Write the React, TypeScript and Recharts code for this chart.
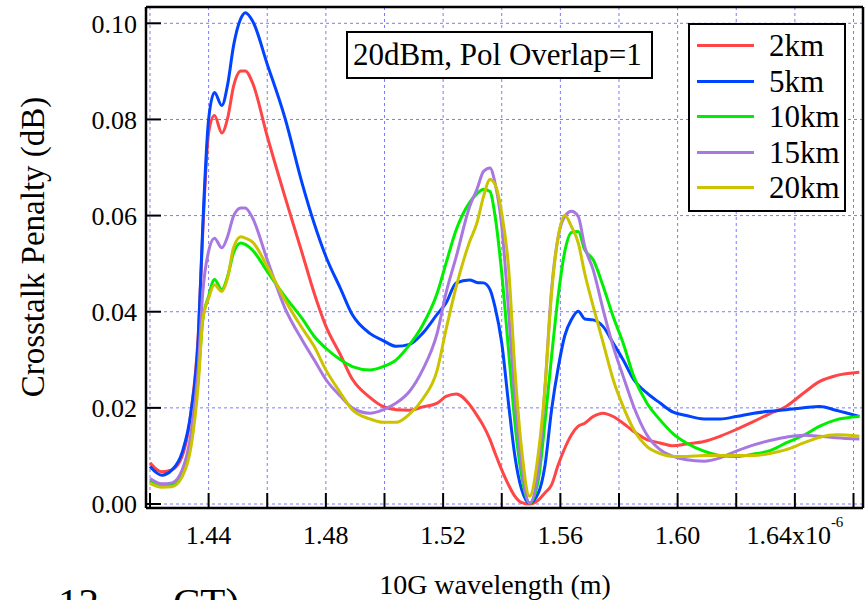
import { CartesianGrid, Legend, Line, LineChart, XAxis, YAxis } from "recharts";

const FONT = "Liberation Serif, Tinos, Times New Roman, DejaVu Serif, serif";

// wavelength in µm (axis is labelled in units of 10^-6 m)
const wavelength = [
  1.42, 1.424, 1.4275, 1.431, 1.434, 1.4365, 1.438, 1.44, 1.442, 1.4445, 1.4465, 1.4485, 1.451, 1.4525, 1.455,
  1.46, 1.466, 1.472, 1.476, 1.48, 1.485, 1.489, 1.495, 1.4995, 1.504, 1.5085, 1.513, 1.518, 1.521, 1.5245,
  1.529, 1.5315, 1.5338, 1.536, 1.5377, 1.54, 1.5423, 1.5445, 1.5468, 1.5495, 1.5525, 1.5547, 1.557, 1.5593,
  1.5615, 1.5638, 1.5661, 1.5683, 1.5712, 1.5746, 1.578, 1.5814, 1.585, 1.5895, 1.594, 1.5985, 1.603, 1.609,
  1.6145, 1.62, 1.626, 1.6315, 1.637, 1.643, 1.6485, 1.654, 1.662,
];

// crosstalk penalty (dB) per fibre length
const km2 = [
  0.0086, 0.0067, 0.0071, 0.01, 0.0192, 0.0356, 0.0564, 0.0772, 0.0808, 0.0772, 0.0803, 0.0869, 0.0901, 0.0901, 0.0876,
  0.0765, 0.064, 0.052, 0.0439, 0.037, 0.031, 0.026, 0.0222, 0.0203, 0.0196, 0.0195, 0.0202, 0.021, 0.0224, 0.0229,
  0.0207, 0.0185, 0.0162, 0.0134, 0.0106, 0.0071, 0.004, 0.0016, 0.0003, 0.0, 0.0008, 0.0023, 0.004, 0.0082,
  0.0116, 0.0144, 0.0162, 0.0168, 0.0182, 0.0189, 0.0182, 0.0168, 0.0151, 0.0134, 0.0127, 0.0121, 0.0125, 0.013,
  0.0141, 0.0155, 0.0172, 0.0188, 0.0203, 0.0231, 0.0255, 0.0267, 0.0274,
];
const km5 = [
  0.0078, 0.006, 0.0071, 0.0108, 0.0192, 0.0349, 0.0578, 0.08, 0.0856, 0.0829, 0.0873, 0.0953, 0.101, 0.1022, 0.1005,
  0.0915, 0.0804, 0.0665, 0.0584, 0.0515, 0.0448, 0.0394, 0.0355, 0.034, 0.0328, 0.0332, 0.0355, 0.0395, 0.0418, 0.046,
  0.0466, 0.0461, 0.046, 0.0446, 0.041, 0.0335, 0.021, 0.0099, 0.003, 0.0002, 0.0023, 0.0078, 0.0196, 0.0285,
  0.035, 0.0384, 0.0401, 0.0385, 0.0383, 0.0369, 0.0335, 0.03, 0.0259, 0.0231, 0.021, 0.0191, 0.0184, 0.0177,
  0.0177, 0.0182, 0.0189, 0.0193, 0.0196, 0.02, 0.0203, 0.0195, 0.0182,
];
const km10 = [
  0.005, 0.0038, 0.004, 0.0064, 0.0133, 0.0265, 0.0383, 0.0432, 0.0467, 0.0446, 0.0474, 0.0522, 0.0543, 0.054, 0.0528,
  0.0484, 0.0432, 0.0385, 0.0349, 0.0324, 0.03, 0.0286, 0.0279, 0.0286, 0.03, 0.0331, 0.0372, 0.0439, 0.0501, 0.0571,
  0.0627, 0.0645, 0.0655, 0.065, 0.06, 0.048, 0.0321, 0.0168, 0.0058, 0.0002, 0.0051, 0.0168, 0.0307, 0.0435,
  0.0525, 0.0565, 0.0567, 0.0529, 0.0508, 0.0453, 0.039, 0.0335, 0.0266, 0.021, 0.0175, 0.0146, 0.0127, 0.011,
  0.0101, 0.0099, 0.0104, 0.0111, 0.0127, 0.0143, 0.0162, 0.0175, 0.0182,
];
const km15 = [
  0.0053, 0.0042, 0.0044, 0.0071, 0.0147, 0.0286, 0.0439, 0.0526, 0.0553, 0.0533, 0.0557, 0.0599, 0.0616, 0.0616, 0.0595,
  0.0508, 0.0408, 0.034, 0.03, 0.0259, 0.0224, 0.02, 0.0189, 0.0196, 0.021, 0.0234, 0.0279, 0.0356, 0.0439, 0.0515,
  0.0618, 0.0654, 0.0692, 0.0699, 0.0668, 0.0578, 0.0404, 0.0217, 0.0078, 0.0002, 0.0071, 0.0238, 0.0446, 0.0557,
  0.0598, 0.0609, 0.0598, 0.0536, 0.0487, 0.0404, 0.0328, 0.0266, 0.0203, 0.0144, 0.0113, 0.0099, 0.0092, 0.0089,
  0.0096, 0.011, 0.0123, 0.0132, 0.0139, 0.0143, 0.0141, 0.0138, 0.0135,
];
const km20 = [
  0.0043, 0.0035, 0.0036, 0.0057, 0.0119, 0.0251, 0.0383, 0.0428, 0.0456, 0.0442, 0.0471, 0.0533, 0.0556, 0.0553, 0.0545,
  0.0494, 0.0425, 0.0365, 0.0328, 0.0279, 0.0231, 0.0196, 0.0177, 0.017, 0.017, 0.0187, 0.0218, 0.0279, 0.0363, 0.0453,
  0.0545, 0.0584, 0.064, 0.0675, 0.0665, 0.0605, 0.0494, 0.0279, 0.0113, 0.0016, 0.0106, 0.0238, 0.0439, 0.0557,
  0.06, 0.0577, 0.0543, 0.048, 0.0411, 0.0335, 0.0259, 0.0203, 0.0155, 0.012, 0.0105, 0.0099, 0.0099, 0.0101,
  0.0101, 0.0101, 0.0101, 0.0105, 0.0113, 0.0127, 0.0139, 0.0144, 0.0141,
];

const xTicks = [1.42, 1.44, 1.46, 1.48, 1.5, 1.52, 1.54, 1.56, 1.58, 1.6, 1.62, 1.64, 1.66];
const xLabelled = [1.44, 1.48, 1.52, 1.56, 1.6, 1.64];
const yTicks = [0, 0.02, 0.04, 0.06, 0.08, 0.1];

const series = [
  { key: "km2", name: "2km", color: "#ff4646", values: km2 },
  { key: "km5", name: "5km", color: "#0044ff", values: km5 },
  { key: "km10", name: "10km", color: "#00ee00", values: km10 },
  { key: "km15", name: "15km", color: "#a878e0", values: km15 },
  { key: "km20", name: "20km", color: "#cbc300", values: km20 },
];

const rows = wavelength.map((x, i) => {
  const row: Record<string, number> = { x };
  series.forEach((s) => (row[s.key] = s.values[i]));
  return row;
});

const axisLine = { stroke: "#000", strokeWidth: 2.5 };
const tickLine = { stroke: "#000", strokeWidth: 2 };

function WavelengthTick({ x, y, payload }: any) {
  const v = payload.value as number;
  if (!xLabelled.some((t) => Math.abs(t - v) < 1e-6)) return <g />;
  const last = Math.abs(v - xLabelled[xLabelled.length - 1]) < 1e-6;
  return (
    <text x={x} y={y} dy="0.71em" textAnchor="middle" fontSize={26} style={{ fontFamily: FONT }} fill="#000">
      {v.toFixed(2)}
      {last && <tspan>x10</tspan>}
      {last && (
        <tspan dy={-17} fontSize={15}>
          -6
        </tspan>
      )}
    </text>
  );
}

function LegendBox() {
  return (
    <div
      style={{
        boxSizing: "border-box",
        width: 158,
        height: 189,
        border: "2px solid #000",
        background: "#fff",
        paddingTop: 3,
        fontFamily: FONT,
      }}
    >
      {series.map((s) => (
        <div key={s.key} style={{ display: "flex", alignItems: "center", height: 35.5 }}>
          <div style={{ marginLeft: 7, width: 57, height: 3, background: s.color }} />
          <span style={{ marginLeft: 15, fontSize: 31, lineHeight: "35.5px", color: "#000" }}>{s.name}</span>
        </div>
      ))}
    </div>
  );
}

export default function App() {
  return (
    <div
      style={{ position: "absolute", left: 0, top: 0, width: 867, height: 600, background: "#fff", fontFamily: FONT }}
    >
      <LineChart width={867} height={600} data={rows} margin={{ top: 6, right: 3, left: 0, bottom: 0 }}>
        <CartesianGrid xAxisId="bottom" yAxisId="left" stroke="#7a7aff" strokeDasharray="3 3" strokeWidth={1} />
        <XAxis
          xAxisId="bottom"
          dataKey="x"
          type="number"
          domain={[1.41864, 1.66324]}
          allowDataOverflow
          ticks={xTicks}
          interval={0}
          height={92}
          tickSize={-15}
          tickMargin={33}
          axisLine={axisLine}
          tickLine={tickLine}
          tick={<WavelengthTick />}
        />
        <XAxis
          xAxisId="top"
          orientation="top"
          dataKey="x"
          type="number"
          domain={[1.41864, 1.66324]}
          allowDataOverflow
          ticks={xTicks}
          interval={0}
          height={1}
          tickSize={-15}
          axisLine={axisLine}
          tickLine={tickLine}
          tick={false}
        />
        <YAxis
          yAxisId="left"
          type="number"
          domain={[-0.00083, 0.10339]}
          allowDataOverflow
          ticks={yTicks}
          interval={0}
          width={146}
          tickSize={-15}
          tickMargin={24}
          axisLine={axisLine}
          tickLine={tickLine}
          tickFormatter={(v: number) => v.toFixed(2)}
          tick={{ fill: "#000", fontSize: 26, style: { fontFamily: FONT } }}
        />
        <YAxis
          yAxisId="right"
          orientation="right"
          type="number"
          domain={[-0.00083, 0.10339]}
          allowDataOverflow
          ticks={yTicks}
          interval={0}
          width={1}
          tickSize={-15}
          axisLine={axisLine}
          tickLine={tickLine}
          tick={false}
        />
        {series.map((s) => (
          <Line
            key={s.key}
            xAxisId="bottom"
            yAxisId="left"
            type="monotone"
            dataKey={s.key}
            name={s.name}
            stroke={s.color}
            strokeWidth={3}
            dot={false}
            isAnimationActive={false}
          />
        ))}
        <Legend
          layout="horizontal"
          verticalAlign="middle"
          align="center"
          content={() => <LegendBox />}
          wrapperStyle={{ left: 688, top: 23, width: 158, height: 189 }}
        />
      </LineChart>
      <svg
        width={867}
        height={600}
        style={{ position: "absolute", left: 0, top: 0, pointerEvents: "none", fontFamily: FONT }}
      >
        <rect x={347} y={32} width={305} height={46} fill="#fff" stroke="#000" strokeWidth={2} />
        <text x={353} y={65} fontSize={31} fill="#000">
          20dBm, Pol Overlap=1
        </text>
        <text transform="translate(44,247) rotate(-90)" textAnchor="middle" fontSize={33} fill="#000">
          Crosstalk Penalty (dB)
        </text>
        <text x={495} y={594} textAnchor="middle" fontSize={28} fill="#000">
          10G wavelength (m)
        </text>
        <text x={58} y={616} fontSize={41} fill="#000">
          12
        </text>
        <text x={173} y={616} fontSize={41} fill="#000">
          CT)
        </text>
      </svg>
    </div>
  );
}
